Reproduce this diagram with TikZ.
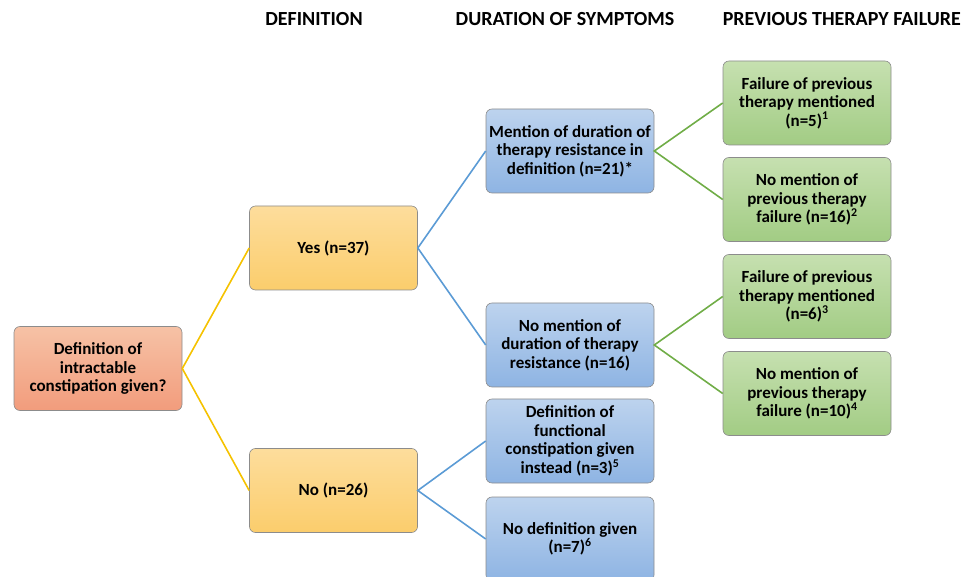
\documentclass[tikz,border=0pt]{standalone}
\usepackage{fontspec}
\setmainfont{Carlito}
\definecolor{rootTop}{HTML}{F6C2A6}
\definecolor{rootBot}{HTML}{F29C7C}
\definecolor{yesTop}{HTML}{FDDD9C}
\definecolor{yesBot}{HTML}{FBCD6C}
\definecolor{durTop}{HTML}{BDD3EE}
\definecolor{durBot}{HTML}{8EB4E3}
\definecolor{prevTop}{HTML}{C6E0B0}
\definecolor{prevBot}{HTML}{A2CC84}
\definecolor{lineYel}{HTML}{F5C200}
\definecolor{lineBlu}{HTML}{5B9BD5}
\definecolor{lineGrn}{HTML}{70AD47}
\begin{document}
\begin{tikzpicture}[x=1pt, y=-1pt,
	box/.style={draw=black!45, line width=0.6pt, rounded corners=6pt, align=center,
		font=\fontsize{17}{18.5}\selectfont\bfseries, inner sep=0pt, minimum width=168pt, minimum height=84pt},
	rootbox/.style={box, top color=rootTop, bottom color=rootBot},
	defbox/.style={box, top color=yesTop, bottom color=yesBot},
	durbox/.style={box, top color=durTop, bottom color=durBot},
	prevbox/.style={box, top color=prevTop, bottom color=prevBot},
	head/.style={font=\fontsize{20}{22}\selectfont\bfseries, inner sep=0pt},
	link/.style={line width=1.6pt}]
	% canvas
	\useasboundingbox (0,0) rectangle (962,577);
	
	% headers
	\node[head, anchor=base] (hdef) at (314,26) {DEFINITION};
	\node[head, anchor=base] (hdur) at (565,26) {DURATION OF SYMPTOMS};
	\node[head, anchor=base east] (hprev) at (961,26) {PREVIOUS THERAPY FAILURE};
	
	% boxes
	\node[rootbox] (root) at (98,368.5) {Definition of\\intractable\\constipation given?};
	
	\node[defbox] (yes) at (333.5,248) {Yes (n=37)};
	\node[defbox] (no) at (333.5,490.5) {No (n=26)};
	
	\node[durbox] (dur1) at (570,151) {Mention of duration of\\therapy resistance in\\definition (n=21)*};
	\node[durbox] (dur2) at (570,345) {No mention of\\duration of therapy\\resistance (n=16)};
	\node[durbox] (dur3) at (570,441) {Definition of\\functional\\constipation given\\instead (n=3)\textsuperscript{5}};
	\node[durbox] (dur4) at (570,539) {No definition given\\(n=7)\textsuperscript{6}};
	
	\node[prevbox] (prev1) at (807,103) {Failure of previous\\therapy mentioned\\(n=5)\textsuperscript{1}};
	\node[prevbox] (prev2) at (807,199.5) {No mention of\\previous therapy\\failure (n=16)\textsuperscript{2}};
	\node[prevbox] (prev3) at (807,296.5) {Failure of previous\\therapy mentioned\\(n=6)\textsuperscript{3}};
	\node[prevbox] (prev4) at (807,393.5) {No mention of\\previous therapy\\failure (n=10)\textsuperscript{4}};
	
	% connectors
	\draw[link, lineYel] (yes.west) -- (root.east) -- (no.west);
	\draw[link, lineBlu] (dur1.west) -- (yes.east) -- (dur2.west);
	\draw[link, lineBlu] (dur3.west) -- (no.east) -- (dur4.west);
	\draw[link, lineGrn] (prev1.west) -- (dur1.east) -- (prev2.west);
	\draw[link, lineGrn] (prev3.west) -- (dur2.east) -- (prev4.west);
\end{tikzpicture}
\end{document}
